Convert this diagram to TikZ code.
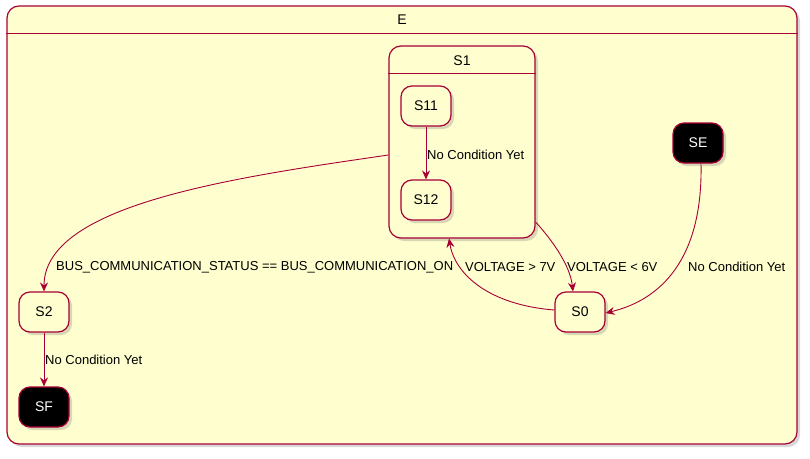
\documentclass[tikz,border=0pt]{standalone}
\usepackage{fontspec}
\setmainfont{Liberation Sans}
\usetikzlibrary{arrows.meta,shadows}
\definecolor{stbg}{HTML}{FEFECE}
\definecolor{stline}{HTML}{A80036}
\tikzset{
  shd/.style={drop shadow={opacity=0.25,shadow xshift=3pt,shadow yshift=-3pt,fill=black!60}},
  state/.style={draw=stline,line width=1.2pt,fill=stbg,rounded corners=11pt,minimum width=50pt,minimum height=40pt,inner sep=0pt,font=\fontsize{14}{16}\selectfont,shd},
  endstate/.style={state,fill=black,text=white},
  comp/.style={draw=stline,line width=1.2pt,fill=stbg,rounded corners=12pt,inner sep=0pt,shd},
  trans/.style={draw=stline,line width=0.9pt,-{Stealth[length=9pt,width=8pt,inset=3pt]}},
  lab/.style={font=\fontsize{13}{15}\selectfont,inner sep=0pt,anchor=west}
}
\begin{document}
\begin{tikzpicture}[x=1pt,y=-1pt]
\useasboundingbox[fill=white] (0,0) rectangle (810,458);
% outer composite E
\node[comp,minimum width=790pt,minimum height=438pt] (E) at (402,225) {};
\node[font=\fontsize{14}{16}\selectfont] (Et) at (402,20) {E};
\draw[stline,line width=1pt] (E.west |- 0,33) -- (E.east |- 0,33);
% composite S1
\node[comp,minimum width=146pt,minimum height=192pt] (S1) at (462,142) {};
\node[font=\fontsize{14}{16}\selectfont] (S1t) at (462,61) {S1};
\draw[stline,line width=1pt] (S1.west |- 0,73.5) -- (S1.east |- 0,73.5);
% states
\node[state] (S11) at (426,106) {S11};
\node[state] (S12) at (426,200) {S12};
\node[state] (S2) at (44,312) {S2};
\node[endstate] (SF) at (44,407) {SF};
\node[state] (S0) at (580,312) {S0};
\node[endstate] (SE) at (698,143) {SE};
% transitions
\draw[trans] (S11) -- (S12);
\node[lab] (l1) at (427,155) {No Condition Yet};
\draw[trans] (S2) -- (SF);
\node[lab] (l2) at (45,360) {No Condition Yet};
\draw[trans] (S1.west |- 0,155) .. controls (230,178) and (44,205) .. (S2.north);
\node[lab] (l3) at (56,267) {BUS\_COMMUNICATION\_STATUS == BUS\_COMMUNICATION\_ON};
\draw[trans] (S1.east |- 0,222) .. controls (552,240) and (570,265) .. (573,291.5);
\node[lab] (l4) at (567,267) {VOLTAGE < 6V};
\draw[trans] (S0.west |- 0,310) .. controls (490,305) and (455,275) .. (449,238.5);
\node[lab] (l5) at (465,267) {VOLTAGE > 7V};
\draw[trans] (SE.south -| 701,0) .. controls (703,260) and (660,300) .. (S0.east |- 0,313);
\node[lab] (l6) at (688,267) {No Condition Yet};
\end{tikzpicture}
\end{document}
